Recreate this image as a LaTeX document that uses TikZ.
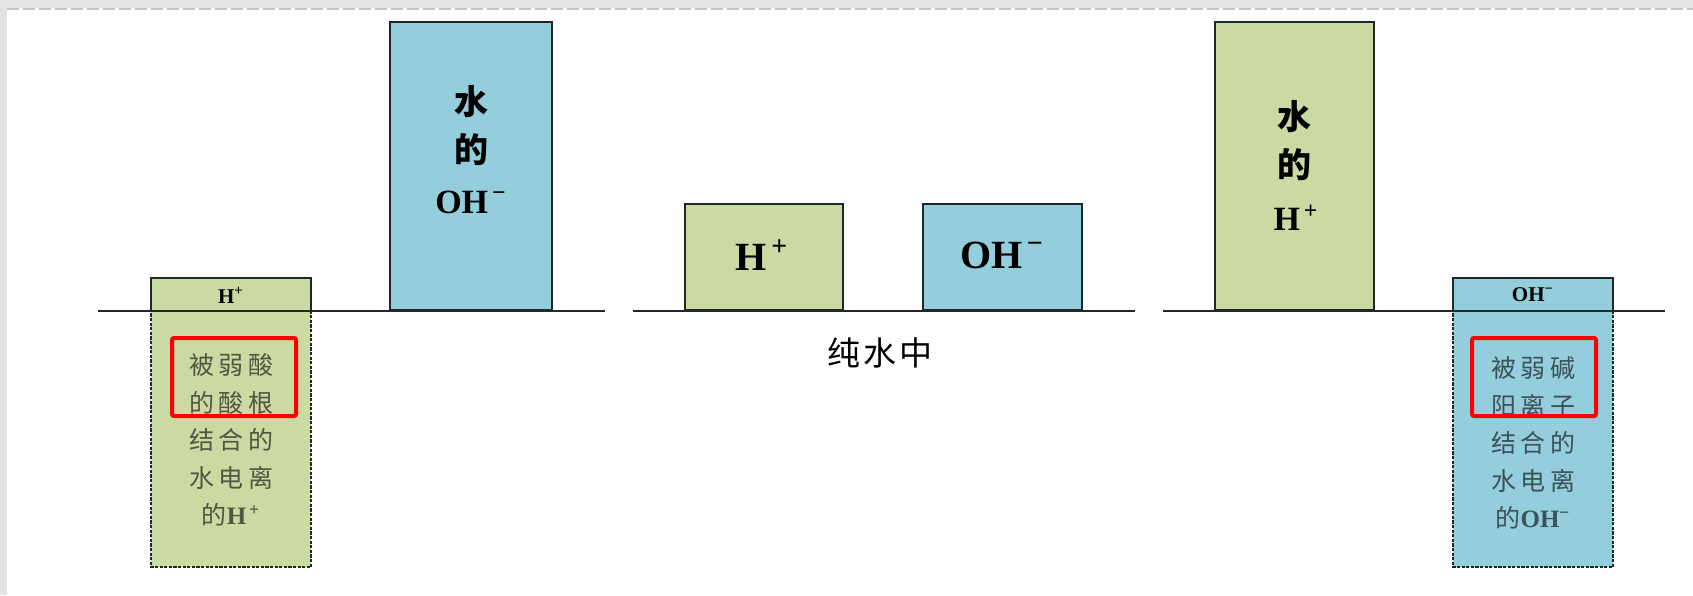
\documentclass[tikz,border=0pt]{standalone}
\usepackage{fontspec}
\setmainfont{Liberation Serif}
\newfontfamily\cjk{Noto Sans CJK SC}
\newfontfamily\cjksp{Noto Sans CJK SC}[LetterSpace=18]
\newfontfamily\cjkmid{Noto Sans CJK SC}[LetterSpace=10]
\usetikzlibrary{fit}
\definecolor{grn}{RGB}{203,217,163}
\definecolor{blu}{RGB}{148,205,220}
\definecolor{edge}{RGB}{30,40,40}
\definecolor{bgg}{RGB}{227,227,227}
\definecolor{dashg}{RGB}{195,195,195}
\begin{document}
\begin{tikzpicture}[x=0.5pt,y=-0.5pt,
  bar/.style={draw=edge,line width=1.2pt},
  dotbar/.style={draw=edge,line width=1.4pt,dash pattern=on 1.6pt off 0.7pt},
  boxfit/.style={inner sep=0pt,outer sep=0pt},
  axisline/.style={draw=black!85,line width=1pt},
  redbox/.style={draw=red,line width=2pt,inner sep=0pt,rounded corners=1pt},
  bigtxt/.style={font=\fontsize{17}{20}\selectfont\bfseries,text=black,inner sep=0pt},
  midtxt/.style={font=\fontsize{20}{24}\selectfont\bfseries,text=black,inner sep=0pt},
  smalltxt/.style={font=\fontsize{10.5}{12}\selectfont\bfseries,text=black,inner sep=0pt},
  graytxt/.style={font=\fontsize{12.5}{18.75}\selectfont,text=black,text opacity=0.6,align=center,inner sep=0pt},
]
\useasboundingbox (0,0) rectangle (1693,595);
\fill[white] (0,0) rectangle (1693,595);
\fill[bgg] (0,0) rectangle (7,595);
\fill[bgg] (0,0) rectangle (1693,7.5);
\draw[dashg,line width=1.4pt,dash pattern=on 6pt off 2pt] (7,9) -- (1693,9);

\coordinate (ax) at (0,310.5);

% left group
\node[boxfit,fill=grn,fit={(151,278)(311,567)}] (lsmall) {};
\draw[bar] (lsmall.west |- ax) -- (lsmall.north west) -- (lsmall.north east) -- (lsmall.east |- ax);
\draw[dotbar] (lsmall.east |- ax) -- (lsmall.south east) -- (lsmall.south west) -- (lsmall.west |- ax);
\node[boxfit,bar,fill=blu,fit={(390,22)(552,310.5)}] (lbig) {};

% middle group
\node[boxfit,bar,fill=grn,fit={(685,204)(843,310.5)}] (mh) {};
\node[boxfit,bar,fill=blu,fit={(923,204)(1082,310.5)}] (moh) {};

% right group
\node[boxfit,bar,fill=grn,fit={(1215,22)(1374,310.5)}] (rbig) {};
\node[boxfit,fill=blu,fit={(1453,278)(1613,567)}] (rsmall) {};
\draw[bar] (rsmall.west |- ax) -- (rsmall.north west) -- (rsmall.north east) -- (rsmall.east |- ax);
\draw[dotbar] (rsmall.east |- ax) -- (rsmall.south east) -- (rsmall.south west) -- (rsmall.west |- ax);

% axes
\coordinate (a1s) at (98,310.5);   \coordinate (a1e) at (605,310.5);
\coordinate (a2s) at (633,310.5);  \coordinate (a2e) at (1135,310.5);
\coordinate (a3s) at (1163,310.5); \coordinate (a3e) at (1665,310.5);
\draw[axisline] (a1s) -- (a1e);
\draw[axisline] (a2s) -- (a2e);
\draw[axisline] (a3s) -- (a3e);

% texts left
\node[smalltxt] (t1) at (231,295) {H\textsuperscript{+}};
\node[graytxt] (t2) at (231,440) {\cjksp 被弱酸\\ \cjksp 的酸根\\ \cjksp 结合的\\ \cjksp 水电离\\ \cjksp 的{\rmfamily\bfseries H\textsuperscript{\,+}}};
\node[bigtxt] (t3) at (471,102) {\cjk\bfseries 水};
\node[bigtxt] (t4) at (471,150) {\cjk\bfseries 的};
\node[bigtxt] (t5) at (471,202) {OH\textsuperscript{\,−}};

% texts middle
\node[midtxt] (t6) at (762,255) {H\textsuperscript{\,+}};
\node[midtxt] (t7) at (1002,255) {OH\textsuperscript{\,−}};
\node[inner sep=0pt,font=\fontsize{16.5}{20}\selectfont] (t8) at (880,353) {\cjkmid 纯水中};

% texts right
\node[bigtxt] (t9) at (1294,117) {\cjk\bfseries 水};
\node[bigtxt] (t10) at (1294,165) {\cjk\bfseries 的};
\node[bigtxt] (t11) at (1296,218) {H\textsuperscript{\,+}};
\node[smalltxt] (t12) at (1533,295) {OH\textsuperscript{−}};
\node[graytxt] (t13) at (1533,443) {\cjksp 被弱碱\\ \cjksp 阳离子\\ \cjksp 结合的\\ \cjksp 水电离\\ \cjksp 的{\rmfamily\bfseries OH\textsuperscript{−}}};

% red highlight boxes
\node[redbox,fit={(172,338)(296,416)}] (r1) {};
\node[redbox,fit={(1472,338)(1596,416)}] (r2) {};
\end{tikzpicture}
\end{document}
